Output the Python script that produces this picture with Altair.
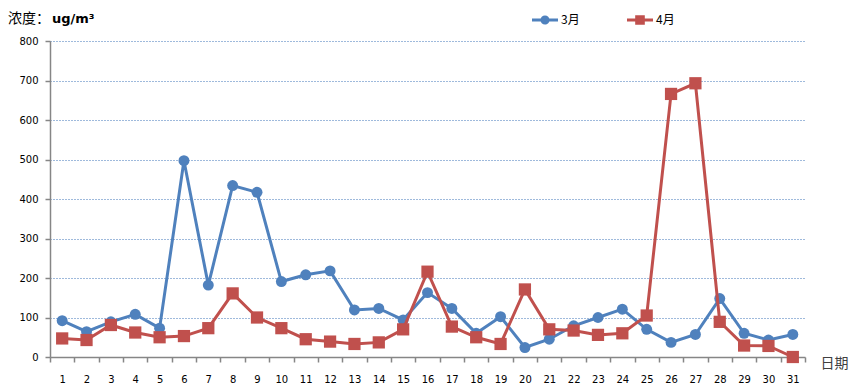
import altair as alt
import pandas as pd

days = list(range(1, 32))
march = [92, 64, 89, 108, 73, 497, 182, 434, 417, 191, 208, 218, 119, 123, 94, 163,
         123, 60, 102, 24, 45, 79, 100, 121, 70, 37, 57, 148, 60, 43, 57]
april = [47, 43, 81, 62, 50, 53, 73, 161, 100, 73, 45, 39, 33, 37, 70, 216,
         77, 50, 33, 171, 70, 67, 56, 60, 105, 666, 693, 89, 29, 28, 0]
series_names = ["3月", "4月"]
series_colors = ["#4F81BD", "#C0504D"]
y_ticks = list(range(0, 801, 100))

rows = []
for name, vals in zip(series_names, [march, april]):
    for d, v in zip(days, vals):
        rows.append({"day": d, "series": name, "value": v})
df = pd.DataFrame(rows)

color_scale = alt.Scale(domain=series_names, range=series_colors)
x_enc = alt.X("day:O", bandPosition=0.5,
              scale=alt.Scale(type="band", paddingInner=0, paddingOuter=0),
              axis=alt.Axis(title="日期", labelAngle=0, tickBand="extent",
                            domainColor="#868686", tickColor="#868686", tickSize=5,
                            labelFont="DejaVu Sans", labelFontSize=10, labelColor="#000000",
                            labelPadding=12, grid=False,
                            titleFont="Noto Sans CJK SC", titleFontSize=14,
                            titleFontWeight="normal", titleColor="#404040",
                            titleAnchor="start", titleAlign="left", titleBaseline="middle",
                            titleX=770, titleY=6))
y_enc = alt.Y("value:Q", scale=alt.Scale(domain=[0, 800], nice=False),
              axis=alt.Axis(title=None, values=y_ticks, domainColor="#868686",
                            tickColor="#868686", tickSize=5, labelPadding=7,
                            labelFont="DejaVu Sans", labelFontSize=10, labelColor="#000000",
                            grid=True, gridColor="#3F75B8", gridDash=[1, 2], gridWidth=1))

base = alt.Chart(df)
layers = []
shapes = ["circle", "square"]
sizes = [120, 150]
for name, shp, sz in zip(series_names, shapes, sizes):
    sub = base.transform_filter(alt.datum.series == name)
    layers.append(sub.mark_line(strokeWidth=3).encode(
        x=x_enc, y=y_enc,
        color=alt.Color("series:N", scale=color_scale, legend=None)))
    layers.append(sub.mark_point(filled=True, opacity=1, shape=shp, size=sz, strokeWidth=0).encode(
        x=x_enc, y=y_enc,
        color=alt.Color("series:N", scale=color_scale, legend=None)))

data_layer = alt.layer(*layers)

circle_path = ("M-1,-0.11H1V0.11H-1Z M0.35,0A0.35,0.35,0,1,1,-0.35,0"
               "A0.35,0.35,0,1,1,0.35,0Z")
square_path = "M-1,-0.11H1V0.11H-1Z M-0.37,-0.37H0.37V0.37H-0.37Z"

leg = alt.Legend(title=None, orient="none", direction="horizontal",
                 legendX=481, legendY=-35, symbolSize=676,
                 labelFont="Noto Sans CJK SC", labelFontSize=12,
                 labelColor="#000000", labelOffset=2,
                 columnPadding=46, padding=0)

legend_layer = base.transform_filter("false").mark_point(
    filled=True, opacity=1, size=676, strokeWidth=0).encode(
    x=x_enc, y=y_enc,
    color=alt.Color("series:N", scale=color_scale, legend=leg),
    shape=alt.Shape("series:N", scale=alt.Scale(domain=series_names,
                                                range=[circle_path, square_path]),
                    legend=leg),
)

title_a = alt.Chart(pd.DataFrame({"t": ["浓度："]})).mark_text(
    font="Noto Sans CJK SC", fontSize=14, align="left", baseline="middle",
    color="#000000").encode(x=alt.value(-42), y=alt.value(-22), text="t:N")
title_b = alt.Chart(pd.DataFrame({"t": ["ug/m³"]})).mark_text(
    font="DejaVu Sans", fontSize=13, fontWeight="bold", align="left", baseline="middle",
    color="#000000").encode(x=alt.value(2), y=alt.value(-22), text="t:N")

chart = alt.layer(data_layer, legend_layer, title_a, title_b).resolve_scale(
    color="independent", shape="independent"
).resolve_legend(color="independent", shape="independent").properties(
    width=755, height=316,
    autosize=alt.AutoSizeParams(type="none"),
    padding={"left": 42, "top": 33, "right": 44, "bottom": 26},
).configure_view(stroke=None).configure_axis(domainWidth=1.5, tickWidth=1.5)

chart.save("out.html", embed_options={"renderer": "svg", "actions": False})
